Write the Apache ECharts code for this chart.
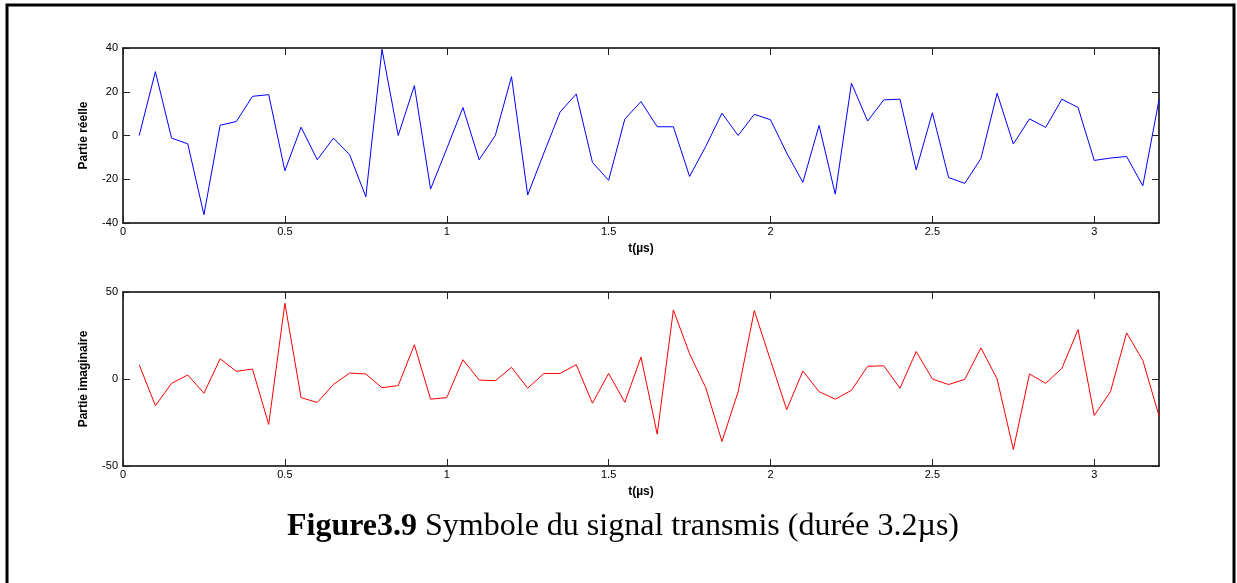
<!DOCTYPE html>
<html>
<head>
<meta charset="utf-8">
<script src="https://cdn.jsdelivr.net/npm/echarts@6/dist/echarts.min.js"></script>
<style>
  html, body { margin: 0; padding: 0; background: #fff; }
  #chart { width: 1237px; height: 583px; }
</style>
</head>
<body>
<div id="chart"></div>
<script>
// sampling step (µs), one symbol = 64 samples
const dt = 0.05;

const realPart = [
    0, 29.2, -1.2, -3.8, -36.2, 4.7, 6.4, 17.9, 18.7, -16.1,
    3.8, -11.1, -1.2, -8.8, -28, 39.4, 0, 22.8, -24.5, -6,
    12.8, -11.1, 0, 26.9, -27.2, -8, 10.7, 19.0, -12.3, -20.5,
    7.5, 15.5, 4.0, 4.0, -18.7, -5, 10.2, 0, 9.7, 7.2,
    -8, -21.4, 4.6, -26.8, 23.9, 6.6, 16.3, 16.6, -15.7, 10.4,
    -19.2, -21.9, -10.5, 19.3, -3.9, 7.6, 3.7, 16.6, 12.8, -11.4,
    -10.3, -9.6, -23, 16.3
];

const imagPart = [
    8.2, -15.3, -2.5, 2.3, -8.2, 11.6, 4.4, 5.7, -26.1, 43.5,
    -10.7, -13.5, -3.1, 3.4, 2.9, -5.0, -3.8, 19.7, -11.6, -10.7,
    11.1, -0.6, -1.0, 6.7, -5.3, 3.2, 3.2, 8.2, -13.9, 3.2,
    -13.4, 12.6, -31.7, 39.7, 14.5, -5.0, -35.9, -7.3, 39.3, 10.7,
    -17.6, 4.6, -7.3, -11.6, -6.5, 7.3, 7.6, -5.3, 15.8, 0,
    -3.2, -0.2, 17.9, 0, -40.5, 2.9, -2.5, 6.1, 28.4, -21,
    -7.3, 26.5, 10.7, -21.2
];

const times = realPart.map((_, i) => +((i + 1) * dt).toFixed(2));

const xLabel = 't(µs)';
const yLabels = ['Partie réelle', 'Partie imaginaire'];
const yRanges = [[-40, 40, 20], [-50, 50, 50]];
const caption = ['Figure3.9', ' Symbole du signal transmis (durée 3.2µs)'];

const lbl = { color: '#000', fontFamily: 'Liberation Sans', fontSize: 11 };
const nameStyle = { color: '#000', fontFamily: 'Liberation Sans', fontSize: 12, fontWeight: 'bold' };
const line = { onZero: false, lineStyle: { color: '#000', width: 1.5 } };
const tick = { inside: true, length: 7, lineStyle: { color: '#222', width: 1 } };

function xAxes(g) {
    return [{
        type: 'value', gridIndex: g, min: 0, max: 3.2, interval: 0.5,
        axisLine: line, axisTick: tick, splitLine: { show: false },
        axisLabel: Object.assign({ margin: 3, showMaxLabel: false }, lbl),
        name: xLabel, nameLocation: 'middle', nameGap: 20, nameTextStyle: nameStyle
    }, {
        type: 'value', gridIndex: g, position: 'top', min: 0, max: 3.2, interval: 0.5,
        axisLine: line, axisTick: tick, splitLine: { show: false }, axisLabel: { show: false }
    }];
}

function yAxes(g) {
    const [mn, mx, step] = yRanges[g];
    return [{
        type: 'value', gridIndex: g, min: mn, max: mx, interval: step,
        axisLine: line, axisTick: tick, splitLine: { show: false },
        axisLabel: Object.assign({ margin: 5 }, lbl),
        name: yLabels[g], nameLocation: 'middle', nameGap: 33, nameTextStyle: nameStyle
    }, {
        type: 'value', gridIndex: g, position: 'right', min: mn, max: mx, interval: step,
        axisLine: line, axisTick: tick, splitLine: { show: false }, axisLabel: { show: false }
    }];
}

const chart = echarts.init(document.getElementById('chart'));
chart.setOption({
    animation: false,
    backgroundColor: '#fff',
    grid: [
        { left: 123, top: 48, width: 1036, height: 175 },
        { left: 123, top: 292, width: 1036, height: 174 }
    ],
    xAxis: xAxes(0).concat(xAxes(1)),
    yAxis: yAxes(0).concat(yAxes(1)),
    series: [{
        type: 'line', xAxisIndex: 0, yAxisIndex: 0, showSymbol: false,
        lineStyle: { color: '#0000ff', width: 1 },
        data: times.map((t, i) => [t, realPart[i]])
    }, {
        type: 'line', xAxisIndex: 2, yAxisIndex: 2, showSymbol: false,
        lineStyle: { color: '#ff0000', width: 1 },
        data: times.map((t, i) => [t, imagPart[i]])
    }],
    graphic: [{
        type: 'rect', silent: true,
        shape: { x: 7, y: 5, width: 1227, height: 600 },
        style: { fill: 'none', stroke: '#000', lineWidth: 3 }
    }, {
        type: 'text', left: 287, top: 511,
        style: {
            text: '{b|' + caption[0] + '}{r|' + caption[1] + '}',
            rich: {
                b: { fontFamily: 'Liberation Serif', fontSize: 32, fontWeight: 'bold', fill: '#000' },
                r: { fontFamily: 'Liberation Serif', fontSize: 32, fill: '#000' }
            }
        }
    }]
});
</script>
</body>
</html>
